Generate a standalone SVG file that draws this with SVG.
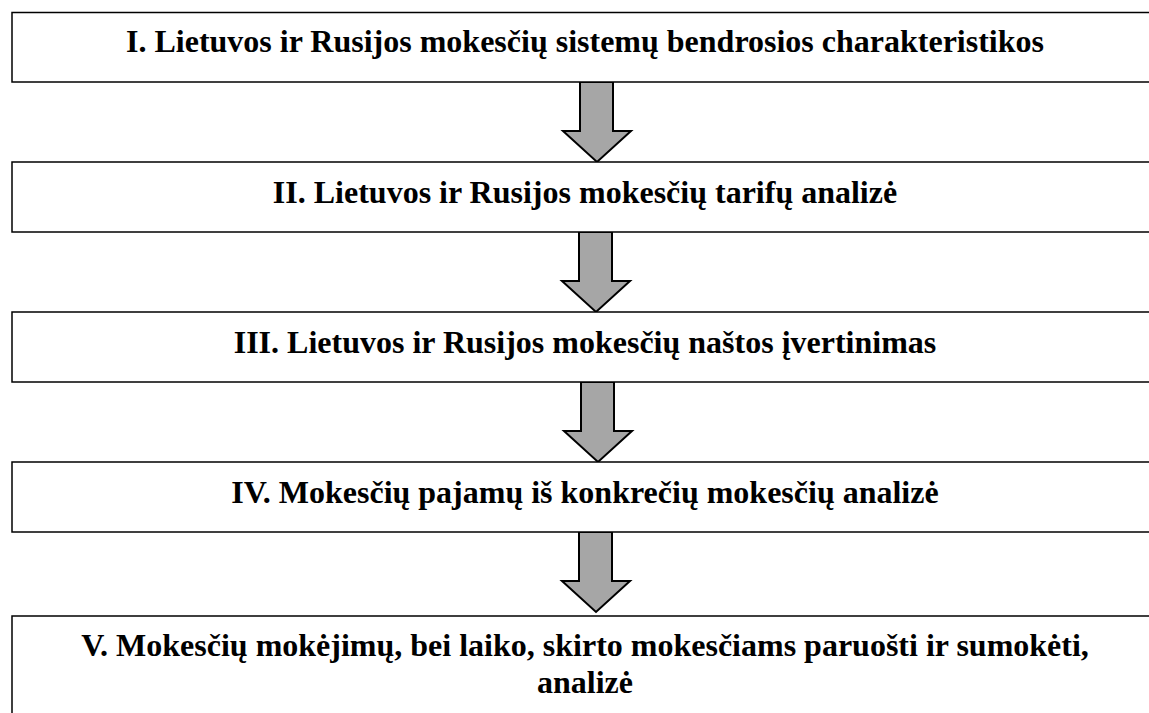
<svg xmlns="http://www.w3.org/2000/svg" width="1149" height="713" viewBox="0 0 1149 713">
<style>
.box{fill:#fff;stroke:#000;stroke-width:1.5}
.t{font-family:"Liberation Serif","Times New Roman",serif;font-weight:bold;font-size:32px;fill:#000;text-anchor:middle}
.arr{fill:#a6a6a6;stroke:#000;stroke-width:2;stroke-linejoin:miter}
</style>
<defs>
<path id="arrow" class="arr" d="M -17 0 L 16 0 L 16 49 L 34 49 L 0 80 L -34 49 L -17 49 Z"/>
</defs>
<rect width="1149" height="713" fill="#fff"/>
<g id="connectors">
<use href="#arrow" x="597" y="82"/>
<use href="#arrow" x="596" y="232"/>
<use href="#arrow" x="598" y="382"/>
<use href="#arrow" x="596" y="532"/>
</g>
<g id="n1"><rect class="box" x="12" y="12.5" width="1150" height="69.5"/><text class="t" x="585" y="52">I. Lietuvos ir Rusijos mokesčių sistemų bendrosios charakteristikos</text></g>
<g id="n2"><rect class="box" x="12" y="162" width="1150" height="70"/><text class="t" x="585" y="203">II. Lietuvos ir Rusijos mokesčių tarifų analizė</text></g>
<g id="n3"><rect class="box" x="12" y="312" width="1150" height="70"/><text class="t" x="585" y="353">III. Lietuvos ir Rusijos mokesčių naštos įvertinimas</text></g>
<g id="n4"><rect class="box" x="12" y="462" width="1150" height="70"/><text class="t" x="585" y="503">IV. Mokesčių pajamų iš konkrečių mokesčių analizė</text></g>
<g id="n5"><rect class="box" x="12" y="616" width="1150" height="110"/><text class="t" x="585" y="656">V. Mokesčių mokėjimų, bei laiko, skirto mokesčiams paruošti ir sumokėti,</text><text class="t" x="585" y="693">analizė</text></g>
</svg>
